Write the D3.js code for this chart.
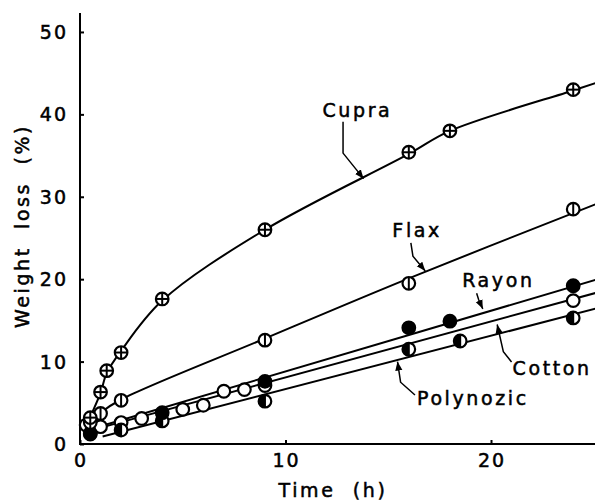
<!DOCTYPE html>
<html lang="en">
<head>
  <meta charset="UTF-8">
  <title>Weight loss vs time</title>
  <script src="https://d3js.org/d3.v7.min.js"></script>
  <style>
    html, body { margin: 0; padding: 0; background: #fff; }
    svg { display: block; }
    .lbl { font-family: "DejaVu Sans", sans-serif; font-size: 19px; fill: #000; stroke: #000; stroke-width: 0.5px; letter-spacing: 2.6px; }
    .tick-lbl { font-family: "DejaVu Sans", sans-serif; font-size: 19px; fill: #000; stroke: #000; stroke-width: 0.5px; letter-spacing: 2px; }
  </style>
</head>
<body>
  <svg width="595" height="500"></svg>
  <script>
    // measured points [time (h), weight loss (%)]
    const cupraPts = [[0.5,3.2],[1,6.3],[1.3,8.9],[2,11.1],[4,17.6],[9,26.0],[16,35.4],[18,38.0],[24,43.0]];
    const flaxPts = [[0.5,2.6],[1,3.7],[2,5.3],[9,12.6],[16,19.5],[24,28.5]];
    const rayonPts = [[0.5,1.3],[4,3.8],[9,7.6],[16,14.1],[18,14.9],[24,19.2]];
    const cottonPts = [[0.3,2.3],[1,2.1],[2,2.6],[3,3.1],[5,4.2],[6,4.7],[7,6.4],[8,6.6],[9,7.1],[24,17.4]];
    const polyPts = [[0.5,1.2],[2,1.7],[4,2.8],[9,5.2],[16,11.5],[18.5,12.5],[24,15.3]];

    // drawn curves / fitted lines
    const cupraFit = [[0.2,1.6],[0.5,3.3],[1,6.2],[1.3,8.6],[2,11.3],[4,17.4],[9,26.0],[16,35.2],[18,38.0],[24,42.9],[25.1,43.8]];
    const flaxFit = [[0.3,2.2],[1,3.8],[2,5.4],[9,12.8],[16,20.1],[25.1,29.1]];
    const rayonFit = [[0.5,1.8],[25.2,20.0]];
    const cottonFit = [[0.3,1.5],[25.2,18.4]];
    const polyFit = [[1.1,0.9],[25.2,16.5]];

    const xTicks = [0, 10, 20];
    const yTicks = [0, 10, 20, 30, 40, 50];

    // labels with pointer polylines, in data units
    const labels = [
      { text: "Cupra", at: [11.8, 39.7], ptr: [[12.8,39.1],[12.8,35.3],[13.8,32.2]] },
      { text: "Flax", at: [15.2, 25.1], ptr: [[16.1,24.4],[16.2,22.8],[16.8,21.0]] },
      { text: "Rayon", at: [18.6, 19.05], ptr: [[19.3,18.3],[19.4,17.5],[19.6,16.4]] },
      { text: "Cotton", at: [21.05, 8.4], ptr: [[21.0,9.95],[20.6,11.2],[20.3,14.5]] },
      { text: "Polynozic", at: [16.4, 4.7], ptr: [[16.3,5.95],[15.6,7.5],[15.45,10.0]] }
    ];

    const svg = d3.select("svg");
    const x = d3.scaleLinear().domain([0, 25.06]).range([80, 595]);
    const y = d3.scaleLinear().domain([0, 52.3]).range([444, 13]);

    svg.append("defs").append("marker")
      .attr("id", "arr").attr("viewBox", "0 0 10 10").attr("refX", 10).attr("refY", 5)
      .attr("markerWidth", 9).attr("markerHeight", 9).attr("markerUnits", "userSpaceOnUse")
      .attr("orient", "auto")
      .append("path").attr("d", "M0,1 L10,5 L0,9 Z").attr("fill", "#000");

    // axes
    const xAxis = svg.append("g").attr("transform", `translate(0,${y(0)})`)
      .call(d3.axisTop(x).tickValues(xTicks).tickSize(4).tickFormat(""));
    const yAxis = svg.append("g").attr("transform", `translate(${x(0)},0)`)
      .call(d3.axisRight(y).tickValues(yTicks).tickSize(4).tickFormat(""));
    [xAxis, yAxis].forEach(g => {
      g.select(".domain").attr("stroke", "#000").attr("stroke-width", 2);
      g.selectAll(".tick line").attr("stroke", "#000").attr("stroke-width", 2);
    });
    yAxis.select(".domain").attr("d", `M0,${y(52.3)}V${y(0) + 1}`);
    xAxis.select(".domain").attr("d", `M${x(0) - 1},0H${x(25.06)}`);

    svg.append("g").selectAll("text").data(xTicks).join("text")
      .attr("class", "tick-lbl").attr("x", d => x(d) + 1).attr("y", 467)
      .attr("text-anchor", "middle").text(d => d);
    svg.append("g").selectAll("text").data(yTicks).join("text")
      .attr("class", "tick-lbl").attr("x", 68).attr("y", d => y(d) + 7)
      .attr("text-anchor", "end").text(d => d);

    svg.append("text").attr("class", "lbl").attr("x", 333).attr("y", 497)
      .attr("text-anchor", "middle").attr("xml:space", "preserve").text("Time  (h)");
    svg.append("text").attr("class", "lbl")
      .attr("transform", "translate(29,226) rotate(-90)")
      .attr("text-anchor", "middle").attr("xml:space", "preserve").text("Weight  loss  (%)");

    // lines
    const lineCurve = d3.line().x(d => x(d[0])).y(d => y(d[1])).curve(d3.curveCatmullRom.alpha(0.5));
    const lineStraight = d3.line().x(d => x(d[0])).y(d => y(d[1]));
    svg.append("g").selectAll("path").data([cupraFit, flaxFit]).join("path")
      .attr("d", lineCurve).attr("fill", "none").attr("stroke", "#000").attr("stroke-width", 2);
    svg.append("g").selectAll("path").data([rayonFit, cottonFit, polyFit]).join("path")
      .attr("d", lineStraight).attr("fill", "none").attr("stroke", "#000").attr("stroke-width", 2);

    // markers
    const R = 6.3;
    function drawMarkers(pts, kind) {
      const g = svg.append("g").selectAll("g").data(pts).join("g")
        .attr("transform", d => `translate(${x(d[0])},${y(d[1])})`);
      if (kind === "half") {
        g.append("circle").attr("r", R).attr("fill", "#fff");
        g.append("path").attr("d", `M0,${-R} A${R},${R} 0 0 0 0,${R} Z`).attr("fill", "#000");
        g.append("circle").attr("r", R).attr("fill", "none").attr("stroke", "#000").attr("stroke-width", 2.2);
        g.append("line").attr("y1", -R).attr("y2", R).attr("stroke", "#000").attr("stroke-width", 2);
        return;
      }
      g.append("circle").attr("r", R)
        .attr("fill", kind === "filled" ? "#000" : "#fff")
        .attr("stroke", "#000").attr("stroke-width", 2.2);
      if (kind === "plus" || kind === "vbar") {
        g.append("line").attr("y1", -R).attr("y2", R).attr("stroke", "#000").attr("stroke-width", 2);
      }
      if (kind === "plus") {
        g.append("line").attr("x1", -R).attr("x2", R).attr("stroke", "#000").attr("stroke-width", 2);
      }
    }
    drawMarkers(cottonPts, "open");
    drawMarkers(polyPts, "half");
    drawMarkers(rayonPts, "filled");
    drawMarkers(flaxPts, "vbar");
    drawMarkers(cupraPts, "plus");

    // labels and pointers
    labels.forEach(l => {
      svg.append("text").attr("class", "lbl").attr("x", x(l.at[0])).attr("y", y(l.at[1])).text(l.text);
      svg.append("path").attr("d", lineStraight(l.ptr)).attr("fill", "none")
        .attr("stroke", "#000").attr("stroke-width", 1.5).attr("marker-end", "url(#arr)");
    });
  </script>
</body>
</html>
